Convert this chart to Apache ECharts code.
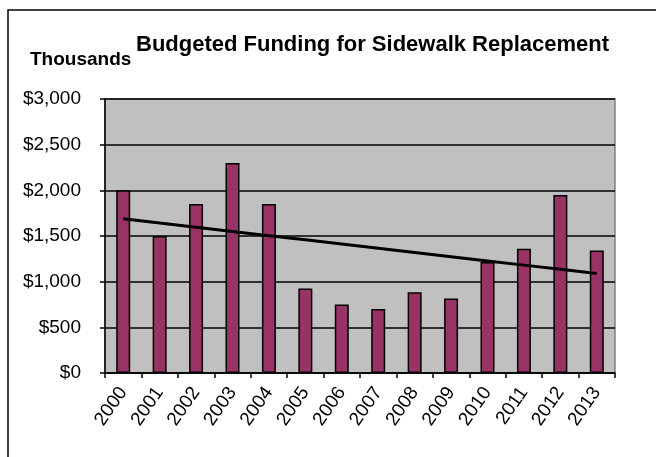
<!DOCTYPE html>
<html>
<head>
<meta charset="utf-8">
<script src="https://cdn.jsdelivr.net/npm/echarts@6/dist/echarts.min.js"></script>
<style>
  html, body { margin: 0; padding: 0; background: #fff; }
  #chart { width: 656px; height: 457px; }
</style>
</head>
<body>
<div id="chart"></div>
<script>
// Budget per year, in thousands of dollars
const years = ['2000', '2001', '2002', '2003', '2004', '2005', '2006',
               '2007', '2008', '2009', '2010', '2011', '2012', '2013'];
const funding = [2000, 1500, 1850, 2300, 1850, 925, 750,
                 700, 885, 815, 1215, 1360, 1950, 1340];

const titleText = 'Budgeted Funding for Sidewalk Replacement';
const unitText = 'Thousands';

// Least-squares linear trend over the yearly values
function linearTrend(values) {
  const n = values.length;
  const mx = (n - 1) / 2;
  const my = values.reduce((a, b) => a + b, 0) / n;
  let sxy = 0, sxx = 0;
  values.forEach((v, i) => { sxy += (i - mx) * (v - my); sxx += (i - mx) * (i - mx); });
  const slope = sxy / sxx;
  return values.map((_, i) => my + slope * (i - mx));
}
const trend = linearTrend(funding);

const FONT = '"Liberation Sans", Arial, sans-serif';
const chart = echarts.init(document.getElementById('chart'), null, { renderer: 'canvas' });

chart.setOption({
  animation: false,
  backgroundColor: '#ffffff',
  title: {
    text: titleText,
    left: 131,
    top: 29,
    textStyle: { fontFamily: FONT, fontSize: 22, fontWeight: 'bold', color: '#000' }
  },
  graphic: [
    {
      type: 'rect',
      shape: { x: 8, y: 10, width: 700, height: 500 },
      style: { fill: 'none', stroke: '#000', lineWidth: 1.5 },
      silent: true
    },
    {
      type: 'text',
      left: 30,
      top: 50,
      style: { text: unitText, font: 'bold 19px ' + FONT, fill: '#000' }
    }
  ],
  grid: {
    left: 105, right: 41, top: 99, bottom: 84,
    show: true,
    backgroundColor: '#c0c0c0',
    borderColor: '#808080',
    borderWidth: 1.5
  },
  xAxis: {
    type: 'category',
    data: years,
    boundaryGap: true,
    axisLine: { lineStyle: { color: '#000', width: 1.5 } },
    axisTick: { show: true, alignWithLabel: false, length: 5, lineStyle: { color: '#000', width: 1.5 } },
    axisLabel: {
      rotate: 55, margin: 16, interval: 0,
      fontFamily: FONT, fontSize: 19, color: '#000'
    },
    splitLine: { show: false }
  },
  yAxis: {
    type: 'value',
    min: 0, max: 3000, interval: 500,
    axisLine: { show: true, lineStyle: { color: '#000', width: 1.5 } },
    axisTick: { show: true, length: 5, lineStyle: { color: '#000', width: 1.5 } },
    axisLabel: {
      margin: 24, fontFamily: FONT, fontSize: 19, color: '#000',
      formatter: v => '$' + v.toLocaleString('en-US')
    },
    splitLine: { show: true, lineStyle: { color: '#000', width: 1.5 } }
  },
  series: [
    {
      type: 'bar',
      data: funding,
      barWidth: 14,
      itemStyle: { color: '#993366', borderColor: '#000', borderWidth: 1.5 }
    },
    {
      type: 'line',
      data: trend,
      showSymbol: false,
      symbol: 'none',
      lineStyle: { color: '#000', width: 3 },
      z: 5
    }
  ]
});
</script>
</body>
</html>
